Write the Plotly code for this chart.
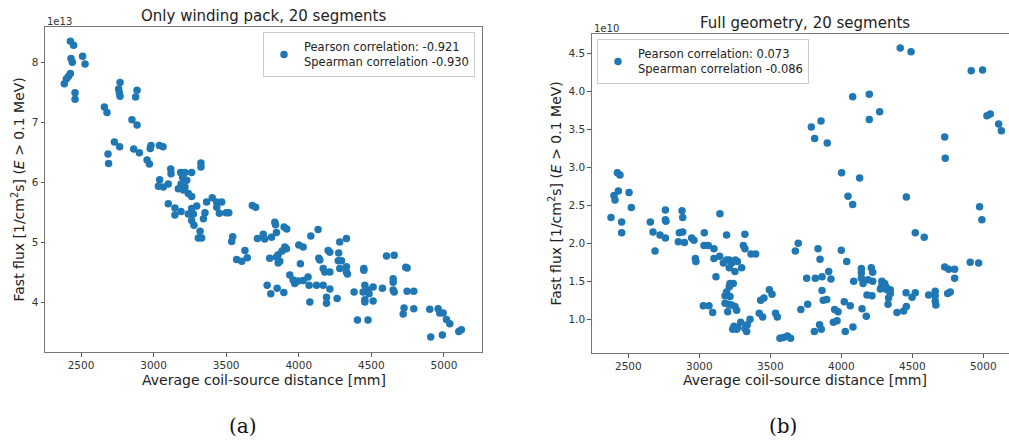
import plotly.graph_objects as go

# ---------------- data ----------------
# (a) Only winding pack: distance [mm], fast flux [1e13 1/cm^2 s]
wp_distance = [2427, 2449, 2431, 2440, 2511, 2528, 2427, 2413, 2399, 2385, 2459, 2459, 2661, 2679,
               2769, 2759, 2764, 2769, 2886, 2876, 2851, 2886, 2730, 2766, 2686, 2690, 2863, 2902,
               2955, 2971, 2982, 2977, 3040, 3065, 3118, 3120, 3042, 3033, 3067, 3101, 3186, 3216,
               3262, 3200, 3228, 3189, 3216, 3170, 3205, 3239, 3262, 3326, 3326, 3101, 3147, 3147,
               3189, 3262, 3297, 3274, 3239, 3262, 3278, 3320, 3308, 3331, 3365, 3404, 3434, 3469,
               3435, 3453, 3499, 3518, 3354, 3343, 3545, 3538, 3572, 3607, 3629, 3645, 3680, 3703,
               3715, 3755, 3765, 3835, 3840, 3899, 3917, 3812, 3846, 4083, 4133, 4000, 4030, 3904,
               3915, 3885, 3858, 3846, 3800, 3869, 3858, 3782, 3851, 3807, 3897, 3938, 3961, 3972,
               3995, 4030, 4064, 4011, 4076, 4071, 4122, 4168, 4214, 4191, 4191, 4264, 4138, 4145,
               4168, 4179, 4214, 4202, 4214, 4275, 4282, 4328, 4272, 4294, 4328, 4328, 4282, 4335,
               4448, 4448, 4381, 4443, 4455, 4478, 4512, 4455, 4455, 4484, 4512, 4404, 4477, 4576,
               4604, 4657, 4650, 4650, 4650, 4657, 4737, 4746, 4746, 4792, 4725, 4719, 4792, 4902,
               4960, 4971, 4994, 5017, 5040, 4909, 4989, 5102, 5120]
wp_flux_1e13 = [8.356, 8.29, 8.07, 8.006, 8.106, 7.98, 7.82, 7.77, 7.73, 7.65, 7.50, 7.39, 7.26, 7.17,
                7.67, 7.56, 7.50, 7.44, 7.54, 7.43, 7.05, 6.96, 6.68, 6.60, 6.48, 6.32, 6.56, 6.50,
                6.38, 6.31, 6.62, 6.57, 6.62, 6.60, 6.23, 6.15, 6.05, 5.94, 5.93, 5.98, 6.17, 6.17,
                6.17, 6.09, 6.04, 5.98, 5.93, 5.90, 5.88, 5.82, 5.77, 6.33, 6.26, 5.65, 5.58, 5.46,
                5.52, 5.57, 5.61, 5.48, 5.48, 5.37, 5.29, 5.19, 5.08, 5.08, 5.68, 5.75, 5.68, 5.68,
                5.59, 5.49, 5.50, 5.50, 5.50, 5.40, 5.10, 5.02, 4.72, 4.69, 4.87, 4.75, 5.62, 5.59,
                5.07, 5.14, 5.06, 5.34, 5.30, 5.26, 5.23, 5.09, 5.17, 5.11, 5.22, 4.96, 4.93, 4.93,
                4.90, 4.86, 4.80, 4.76, 4.74, 4.69, 4.66, 4.29, 4.24, 4.15, 4.17, 4.46, 4.38, 4.32,
                4.36, 4.37, 4.43, 4.65, 4.01, 4.29, 4.29, 4.29, 4.23, 4.09, 3.99, 4.07, 4.74, 4.71,
                4.57, 4.51, 4.51, 4.87, 4.84, 4.83, 5.01, 5.07, 4.70, 4.70, 4.60, 4.51, 4.57, 4.48,
                4.57, 4.54, 4.18, 4.18, 4.29, 4.21, 4.26, 4.05, 4.01, 4.15, 4.03, 3.71, 3.71, 4.24,
                4.78, 4.79, 4.40, 4.34, 4.21, 4.18, 4.59, 4.58, 4.19, 4.19, 3.91, 3.81, 3.90, 3.89,
                3.90, 3.83, 3.83, 3.72, 3.65, 3.43, 3.46, 3.52, 3.55]

# (b) Full geometry: distance [mm], fast flux [1e10 1/cm^2 s]
fg_distance = [2423, 2441, 2399, 2406, 2430, 2505, 2521, 2378, 2453, 2453, 2655, 2674, 2688, 2723,
               2761, 2761, 2761, 2765, 2878, 2883, 2859, 2883, 2852, 2895, 2946, 2962, 2972, 2976,
               3035, 3033, 3063, 3103, 3103, 3143, 3117, 3145, 3192, 3169, 3192, 3211, 3228, 3254,
               3268, 3298, 3251, 3211, 3321, 3310, 3321, 3364, 3397, 3239, 3211, 3192, 3181, 3216,
               3216, 3181, 3204, 3228, 3251, 3263, 3200, 3028, 3068, 3094, 3244, 3268, 3291, 3321,
               3338, 3357, 3333, 3235, 3263, 3432, 3455, 3493, 3512, 3422, 3446, 3537, 3549, 3568,
               3592, 3620, 3643, 3676, 3697, 3715, 4415, 4491, 4915, 4995, 4080, 4197, 4197, 4270,
               3789, 3857, 3812, 3901, 4728, 4732, 5026, 5049, 5108, 5127, 4002, 4129, 4047, 4080,
               4458, 4521, 4584, 4974, 4990, 4908, 4967, 4728, 4756, 4798, 4798, 3836, 3850, 4000,
               4038, 3756, 3817, 3864, 3911, 3927, 3864, 3763, 3873, 3897, 3953, 3977, 3944, 3970,
               3810, 3847, 3859, 4021, 4063, 4028, 4082, 4087, 4141, 4141, 4141, 4153, 4211, 4221,
               4188, 4221, 4146, 4176, 4181, 4216, 4286, 4286, 4291, 4305, 4314, 4322, 4345, 4345,
               4333, 4329, 4275, 4392, 4439, 4458, 4456, 4498, 4521, 4615, 4661, 4661, 4661, 4666,
               4749, 4767]
fg_flux_1e10 = [2.93, 2.90, 2.63, 2.57, 2.69, 2.67, 2.47, 2.34, 2.28, 2.14, 2.28, 2.15, 1.90, 2.11,
                2.07, 2.44, 2.31, 2.29, 2.43, 2.34, 2.14, 2.15, 2.02, 2.01, 2.07, 2.04, 1.80, 1.76,
                2.14, 1.97, 1.97, 1.93, 1.80, 1.83, 1.56, 2.39, 2.11, 1.74, 1.78, 1.78, 1.74, 1.78,
                1.76, 1.68, 1.63, 1.68, 2.12, 1.97, 1.93, 1.86, 1.86, 1.47, 1.43, 1.36, 1.31, 1.30,
                1.47, 1.21, 1.20, 1.19, 1.17, 1.12, 1.10, 1.18, 1.18, 1.09, 0.91, 0.89, 0.96, 0.88,
                0.93, 1.00, 0.84, 0.87, 0.87, 1.25, 1.28, 1.39, 1.33, 1.08, 1.03, 1.08, 1.03, 0.75,
                0.76, 0.78, 0.75, 1.90, 2.00, 1.13, 4.57, 4.52, 4.27, 4.28, 3.93, 3.96, 3.63, 3.73,
                3.53, 3.61, 3.38, 3.32, 3.40, 3.12, 3.68, 3.70, 3.57, 3.48, 2.93, 2.86, 2.62, 2.51,
                2.61, 2.14, 2.08, 2.48, 2.31, 1.75, 1.74, 1.69, 1.66, 1.66, 1.54, 1.93, 1.79, 1.91,
                1.76, 1.54, 1.54, 1.56, 1.63, 1.53, 1.38, 1.20, 1.25, 1.26, 1.13, 1.10, 0.96, 0.98,
                0.84, 0.93, 0.87, 1.23, 1.18, 0.84, 0.90, 1.50, 1.67, 1.61, 1.54, 1.47, 1.68, 1.62,
                1.52, 1.50, 1.14, 1.04, 1.32, 1.31, 1.50, 1.45, 1.41, 1.47, 1.43, 1.39, 1.39, 1.34,
                1.28, 1.20, 1.40, 1.09, 1.11, 1.17, 1.35, 1.29, 1.35, 1.32, 1.37, 1.31, 1.24, 1.19,
                1.34, 1.36]

x_ticks = [2500, 3000, 3500, 4000, 4500, 5000]
wp_y_ticks = [4, 5, 6, 7, 8]
fg_y_ticks = [1.0, 1.5, 2.0, 2.5, 3.0, 3.5, 4.0, 4.5]

titles = ["Only winding pack, 20 segments", "Full geometry, 20 segments"]
wp_legend = "Pearson correlation: -0.921<br>Spearman correlation -0.930"
fg_legend = "Pearson correlation: 0.073<br>Spearman correlation -0.086"
x_label = "Average coil-source distance [mm]"
y_label = "Fast flux [1/cm<sup>2</sup>s] (<i>E</i> > 0.1 MeV)"
captions = ["(a)", "(b)"]

# ---------------- layout helpers ----------------
W, H = 1009, 441
FONT = "DejaVu Sans"
BLUE = "#1f77b4"


def px(x):
    return x / W


def py(y):
    return 1 - y / H


fig = go.Figure()
fig.add_trace(go.Scatter(x=wp_distance, y=wp_flux_1e13, mode="markers", name=wp_legend,
                         marker=dict(color=BLUE, size=7.5), xaxis="x", yaxis="y",
                         legend="legend"))
fig.add_trace(go.Scatter(x=fg_distance, y=fg_flux_1e10, mode="markers", name=fg_legend,
                         marker=dict(color=BLUE, size=7.5), xaxis="x2", yaxis="y2",
                         legend="legend2"))

axis_common = dict(showgrid=False, zeroline=False, ticks="outside", ticklen=3.5, tickwidth=1,
                   tickcolor="#555", showline=True, linecolor="#777", linewidth=1,
                   tickfont=dict(family=FONT, size=10.5, color="#333"))

legend_common = dict(bgcolor="rgba(255,255,255,0.8)", bordercolor="#cccccc", borderwidth=1,
                     font=dict(family=FONT, size=11.5, color="#222"), itemsizing="trace",
                     tracegroupgap=0)

fig.update_layout(
    width=W, height=H, margin=dict(l=0, r=0, t=0, b=0),
    plot_bgcolor="white", paper_bgcolor="white",
    font=dict(family=FONT),
    xaxis=dict(domain=[px(45), px(482)], range=[2252, 5262], tickvals=x_ticks, mirror=True,
               anchor="y", **axis_common),
    yaxis=dict(domain=[py(352.3), py(27)], range=[3.173, 8.595], tickvals=wp_y_ticks,
               mirror=True, anchor="x", **axis_common),
    xaxis2=dict(domain=[px(591.7), 1.0], range=[2242, 5181], tickvals=x_ticks, mirror=True,
                anchor="y2", **axis_common),
    yaxis2=dict(domain=[py(353), py(34)], range=[0.557, 4.754], tickvals=fg_y_ticks,
                tickformat=".1f", mirror=False, anchor="x2", **axis_common),
    legend=dict(x=px(475), y=py(32), xanchor="right", yanchor="top", **legend_common),
    legend2=dict(x=px(597), y=py(39), xanchor="left", yanchor="top", **legend_common),
    showlegend=True,
)

ann = []
# titles
ann.append(dict(text=titles[0], x=px(263.5), y=py(16), xref="paper", yref="paper",
                showarrow=False, xanchor="center", yanchor="middle",
                font=dict(family=FONT, size=15, color="#222")))
ann.append(dict(text=titles[1], x=px(805), y=py(23), xref="paper", yref="paper",
                showarrow=False, xanchor="center", yanchor="middle",
                font=dict(family=FONT, size=15, color="#222")))
# offset texts
ann.append(dict(text="1e13", x=px(45), y=py(21), xref="paper", yref="paper", showarrow=False,
                xanchor="left", yanchor="middle", font=dict(family=FONT, size=10, color="#333")))
ann.append(dict(text="1e10", x=px(592), y=py(28), xref="paper", yref="paper", showarrow=False,
                xanchor="left", yanchor="middle", font=dict(family=FONT, size=10, color="#333")))
# x labels
for cx in (263.5, 805):
    ann.append(dict(text=x_label, x=px(cx), y=py(380), xref="paper", yref="paper",
                    showarrow=False, xanchor="center", yanchor="middle",
                    font=dict(family=FONT, size=14, color="#222")))
# y labels
for cx, cy in ((18, 189.5), (556, 193.5)):
    ann.append(dict(text=y_label, x=px(cx), y=py(cy), xref="paper", yref="paper",
                    showarrow=False, xanchor="center", yanchor="middle", textangle=-90,
                    font=dict(family=FONT, size=14, color="#222")))
# captions
for cx, cap in ((243, captions[0]), (783, captions[1])):
    ann.append(dict(text=cap, x=px(cx), y=py(426), xref="paper", yref="paper",
                    showarrow=False, xanchor="center", yanchor="middle",
                    font=dict(family="DejaVu Serif", size=20, color="#111")))

fig.update_layout(annotations=ann)
fig.write_html("out.html")
